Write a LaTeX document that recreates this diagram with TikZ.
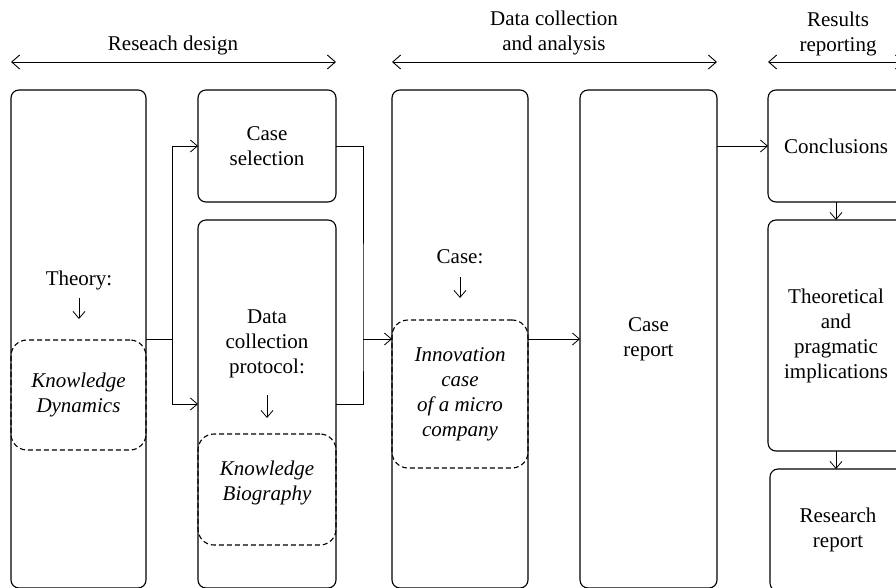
\documentclass[tikz,border=0pt]{standalone}
\usepackage{fontspec}
\setmainfont{Liberation Serif}
\usetikzlibrary{arrows.meta}

\begin{document}
\begin{tikzpicture}[x=1pt,y=-1pt,
    box/.style={draw,line width=1.1pt,rounded corners=8pt,anchor=north west,
      inner sep=0pt,outer sep=0pt,align=center,font=\fontsize{21}{25}\selectfont},
    dbox/.style={box,rounded corners=16pt,dash pattern=on 5pt off 3pt,font=\fontsize{21}{25}\selectfont\itshape},
    txt/.style={align=center,inner sep=0pt,font=\fontsize{21}{25}\selectfont},
    arr/.style={-{Straight Barb[length=7pt,width=12pt]},line width=0.8pt},
    hdarr/.style={{Straight Barb[length=8pt,width=14pt]}-{Straight Barb[length=8pt,width=14pt]},line width=0.9pt}]
    \useasboundingbox (0,0) rectangle (896,588);
    \clip (0,0) rectangle (896,588);

    % columns
    \node[box,minimum width=135pt,minimum height=498pt] (theorybox) at (11,90) {};
    \node[box,minimum width=138pt,minimum height=112pt] (casesel) at (198,90) {Case\\selection};
    \node[box,minimum width=138pt,minimum height=368pt] (dcpbox) at (198,220) {};
    \node[box,minimum width=136pt,minimum height=498pt] (casebox) at (392,90) {};
    \node[box,minimum width=137pt,minimum height=498pt] (report) at (580,90) {Case\\report};
    \node[box,minimum width=136pt,minimum height=112pt] (concl) at (768,90) {Conclusions};
    \node[box,minimum width=136pt,minimum height=231pt] (implic) at (768,220) {Theoretical\\and\\pragmatic\\implications};
    \node[box,minimum width=136pt,minimum height=122pt] (resrep) at (770,469) {Research\\report};

    % dashed inner boxes
    \node[dbox,minimum width=135pt,minimum height=110pt] (kdyn) at (11,340) {Knowledge\\Dynamics};
    \node[dbox,minimum width=138pt,minimum height=111pt] (kbio) at (198,434) {};
    \node[txt,font=\fontsize{21}{25}\selectfont\itshape] (kbiotxt) at (267,483) {Knowledge\\Biography};
    \node[dbox,minimum width=136pt,minimum height=148pt] (innov) at (392,320) {Innovation\\case\\of a micro\\company};

    % texts
    \node[txt] (theory) at (79,280) {Theory:};
    \node[txt] (dcp) at (267,344) {Data\\collection\\protocol:};
    \node[txt] (casetxt) at (460,257) {Case:};

    \node[txt] (hdesign) at (173,45) {Reseach design};
    \node[txt] (hdata) at (554,33) {Data collection\\and analysis};
    \node[txt] (hresults) at (838,34) {Results\\reporting};

    % header arrows
    \draw[hdarr] ([yshift=28pt]theorybox.north west) -- ([yshift=28pt]casesel.north east);
    \draw[hdarr] ([yshift=28pt]casebox.north west) -- ([yshift=28pt]report.north east);
    \draw[hdarr] ([yshift=28pt]concl.north west) -- ([yshift=28pt]concl.north east);

    % down arrows inside
    \draw[arr,shorten <=8pt,shorten >=21pt] (theory.south) -- (theory.south |- kdyn.north);
    \draw[arr,shorten <=17pt,shorten >=16pt] (dcp.south) -- (dcp.south |- kbio.north);
    \draw[arr,shorten <=13pt,shorten >=22pt] (casetxt.south) -- (casetxt.south |- innov.north);

    % connectors
    \coordinate (fork) at ([xshift=26pt]theorybox.east);
    \draw (theorybox.east) -- (fork);
    \draw[arr] (fork) |- (casesel.west);
    \draw[arr] (fork) |- (dcpbox.west);
    \coordinate (join) at ([xshift=27pt]casesel.east |- casebox.west);
    \draw[line width=0.8pt] (casesel.east) -| (join) |- (dcpbox.east);
    \draw[arr] (join) -- (casebox.west);
    \draw[arr] (casebox.east) -- (report.west);
    \draw[arr] (report.east |- concl.west) -- (concl.west);
    \draw[arr] (concl.south) -- (implic.north);
    \draw[arr] (implic.south) -- (implic.south |- resrep.north);
\end{tikzpicture}
\end{document}
